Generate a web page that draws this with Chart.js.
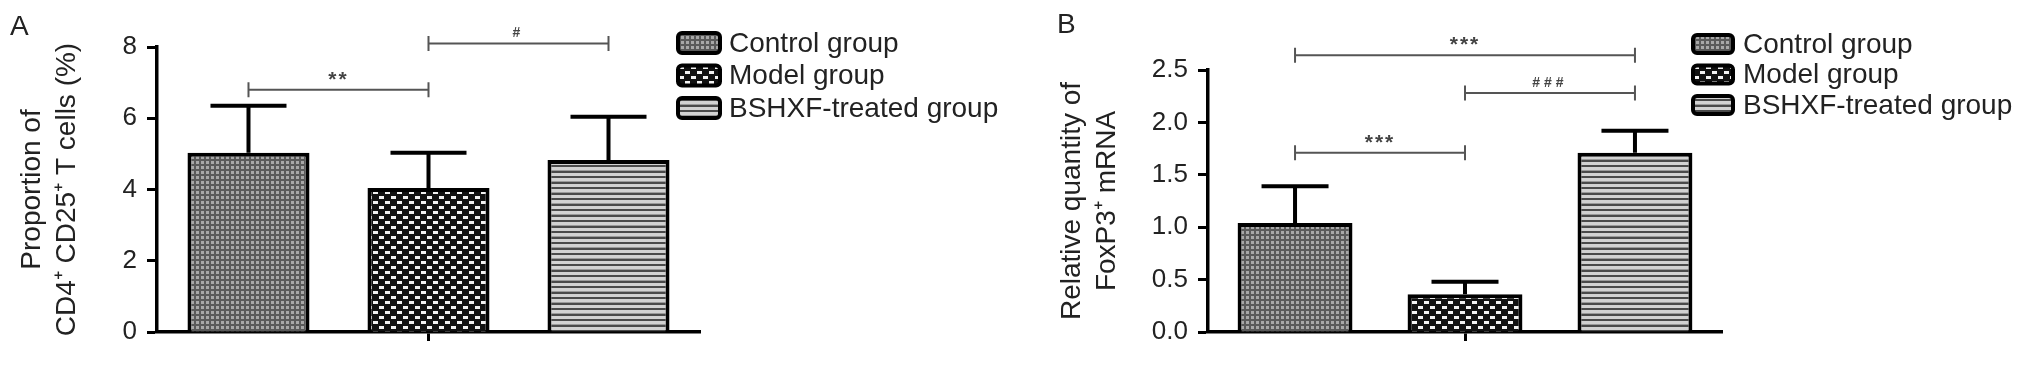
<!DOCTYPE html>
<html>
<head>
<meta charset="utf-8">
<script src="https://cdn.jsdelivr.net/npm/chart.js@4.4.1/dist/chart.umd.min.js"></script>
<style>
  body { margin: 0; background: #fff; }
  #wrap { position: relative; width: 2031px; height: 370px; }
  canvas { position: absolute; top: 0; }
  #chartA { left: 0; }
  #chartB { left: 1015px; }
</style>
</head>
<body>
<div id="wrap">
  <canvas id="chartA" width="1015" height="370"></canvas>
  <canvas id="chartB" width="1016" height="370"></canvas>
</div>
<script>
const groups = ["Control group", "Model group", "BSHXF-treated group"];

// panel A - CD4+ CD25+ T cells (%)
const meanA = [5.03, 4.04, 4.83];
const sdA = [1.32, 0.99, 1.21];
const yTicksA = [0, 2, 4, 6, 8];
const sigFromA = [0, 1];
const sigToA = [1, 2];
const sigYA = [6.8, 8.1];
const sigTextA = ["**", "#"];

// panel B - FoxP3+ mRNA
const meanB = [1.04, 0.36, 1.71];
const sdB = [0.35, 0.12, 0.21];
const yTicksB = [0, 0.5, 1.0, 1.5, 2.0, 2.5];
const sigFromB = [0, 1, 0];
const sigToB = [1, 2, 2];
const sigYB = [1.71, 2.28, 2.64];
const sigTextB = ["***", "###", "***"];

const FONT = "'Liberation Sans', Arial, Helvetica, sans-serif";

function makeFills(ctx) {
  const pat = (w, h, draw) => {
    const c = document.createElement("canvas");
    c.width = w; c.height = h;
    draw(c.getContext("2d"));
    return ctx.createPattern(c, "repeat");
  };
  return [
    pat(5, 5, g => {
      g.fillStyle = "#5a5a5a"; g.fillRect(0, 0, 5, 5);
      g.fillStyle = "#a8a8a8"; g.fillRect(1, 1, 3, 3);
    }),
    pat(12, 10, g => {
      g.fillStyle = "#111"; g.fillRect(0, 0, 12, 10);
      g.fillStyle = "#f2f2f2"; g.fillRect(1, 1, 5, 3); g.fillRect(7, 6, 5, 3);
    }),
    pat(4, 11, g => {
      const rows = ["#4a4a4a", "#4a4a4a", "#d2d2d2", "#d2d2d2", "#d2d2d2", "#9a9a9a",
                    "#4a4a4a", "#4a4a4a", "#d2d2d2", "#d2d2d2", "#d2d2d2"];
      rows.forEach((c, i) => { g.fillStyle = c; g.fillRect(0, i, 4, 1); });
    }),
  ];
}

function makeChart(id, cfg) {
  const ctx = document.getElementById(id).getContext("2d");
  const fills = makeFills(ctx);

  const extras = {
    id: "extras",
    afterDatasetsDraw(chart) {
      const c = chart.ctx, y = chart.scales.y;
      c.save();
      // error bars (upper SD only)
      c.strokeStyle = "#000";
      c.lineWidth = 4;
      cfg.mean.forEach((m, i) => {
        const el = chart.getDatasetMeta(i).data[0];
        const top = y.getPixelForValue(m + cfg.sd[i]);
        c.beginPath();
        c.moveTo(el.x, el.y);
        c.lineTo(el.x, top);
        c.moveTo(el.x - cfg.cap / 2, top);
        c.lineTo(el.x + cfg.cap / 2, top);
        c.stroke();
      });
      c.restore();
    },
    afterDraw(chart) {
      const c = chart.ctx, y = chart.scales.y;
      c.save();
      // significance brackets
      cfg.sigFrom.forEach((from, k) => {
        const x1 = chart.getDatasetMeta(from).data[0].x;
        const x2 = chart.getDatasetMeta(cfg.sigTo[k]).data[0].x;
        const py = y.getPixelForValue(cfg.sigY[k]);
        c.strokeStyle = "#555";
        c.lineWidth = 2;
        c.beginPath();
        c.moveTo(x1, py); c.lineTo(x2, py);
        c.moveTo(x1, py - 7.5); c.lineTo(x1, py + 7.5);
        c.moveTo(x2, py - 7.5); c.lineTo(x2, py + 7.5);
        c.stroke();
        const txt = cfg.sigText[k];
        const star = txt[0] === "*";
        c.fillStyle = "#444";
        c.font = star ? `bold 21px ${FONT}` : `bold 14px ${FONT}`;
        c.letterSpacing = star ? "2px" : "4px";
        c.textAlign = "center";
        c.textBaseline = "alphabetic";
        c.fillText(txt, (x1 + x2) / 2, star ? py - 4 : py - 6);
      });
      c.letterSpacing = "0px";

      // legend
      const lg = cfg.legend;
      c.font = `28px ${FONT}`;
      c.textAlign = "left";
      c.textBaseline = "middle";
      chart.data.datasets.forEach((ds, i) => {
        const cy = lg.y + i * lg.step;
        c.beginPath();
        c.roundRect(lg.x, cy - lg.h / 2, lg.w, lg.h, 4);
        c.fillStyle = ds.backgroundColor;
        c.fill();
        c.lineWidth = 4;
        c.strokeStyle = "#000";
        c.stroke();
        c.fillStyle = "#222";
        c.fillText(ds.label, lg.tx, cy + 1);
      });

      // panel letter
      c.font = `28px ${FONT}`;
      c.textBaseline = "alphabetic";
      c.fillStyle = "#222";
      c.fillText(cfg.letter, cfg.letterX, cfg.letterY);
      c.restore();
    },
  };

  return new Chart(ctx, {
    type: "bar",
    data: {
      labels: [""],
      datasets: groups.map((g, i) => ({
        label: g,
        data: [cfg.mean[i]],
        backgroundColor: fills[i],
        borderColor: "#000",
        borderWidth: 4,
        categoryPercentage: cfg.catPct,
        barPercentage: cfg.barPct,
      })),
    },
    options: {
      responsive: false,
      animation: false,
      events: [],
      layout: { padding: { left: 0, top: cfg.top, right: cfg.right, bottom: 0 } },
      plugins: {
        legend: { display: false },
        tooltip: { enabled: false },
      },
      scales: {
        x: {
          grid: { display: true, drawOnChartArea: false, offset: false, tickLength: 9, tickWidth: 3, tickColor: "#000" },
          border: { display: true, color: "#000", width: 3.5 },
          ticks: { display: false },
          afterFit: s => { s.height = 38; },
        },
        y: {
          min: cfg.ticks[0],
          max: cfg.ticks[cfg.ticks.length - 1],
          afterBuildTicks: s => { s.ticks = cfg.ticks.map(v => ({ value: v })); },
          ticks: {
            padding: 10,
            color: "#222",
            font: { family: FONT, size: 26 },
            callback: v => cfg.fmt(v),
          },
          grid: { drawOnChartArea: false, tickLength: 10, tickWidth: 3, tickColor: "#000" },
          border: { display: true, color: "#000", width: 3.5 },
          title: {
            display: true,
            text: cfg.title,
            color: "#222",
            font: { family: FONT, size: 28, lineHeight: 1.25 },
            padding: { top: cfg.titlePad, bottom: 0 },
          },
          afterFit: s => { s.width = cfg.yWidth; },
        },
      },
    },
    plugins: [extras],
  });
}

makeChart("chartA", {
  mean: meanA, sd: sdA, ticks: yTicksA, fmt: v => String(v),
  sigFrom: sigFromA, sigTo: sigToA, sigY: sigYA, sigText: sigTextA,
  title: ["Proportion of", "CD4\u207A CD25\u207A T cells (%)"],
  titlePad: 14.5, yWidth: 157, top: 47, right: 315,
  catPct: 0.9945, barPct: 0.678, cap: 76,
  legend: { x: 678, y: 43, step: 32.5, w: 42, h: 20, tx: 729 },
  letter: "A", letterX: 10, letterY: 35,
});

makeChart("chartB", {
  mean: meanB, sd: sdB, ticks: yTicksB, fmt: v => v.toFixed(1),
  sigFrom: sigFromB, sigTo: sigToB, sigY: sigYB, sigText: sigTextB,
  title: ["Relative quantity of", "FoxP3\u207A mRNA"],
  titlePad: 39.5, yWidth: 193, top: 70, right: 309,
  catPct: 0.992, barPct: 0.676, cap: 67,
  legend: { x: 678, y: 44, step: 30.5, w: 40, h: 18, tx: 728 },
  letter: "B", letterX: 42, letterY: 33,
});
</script>
</body>
</html>
